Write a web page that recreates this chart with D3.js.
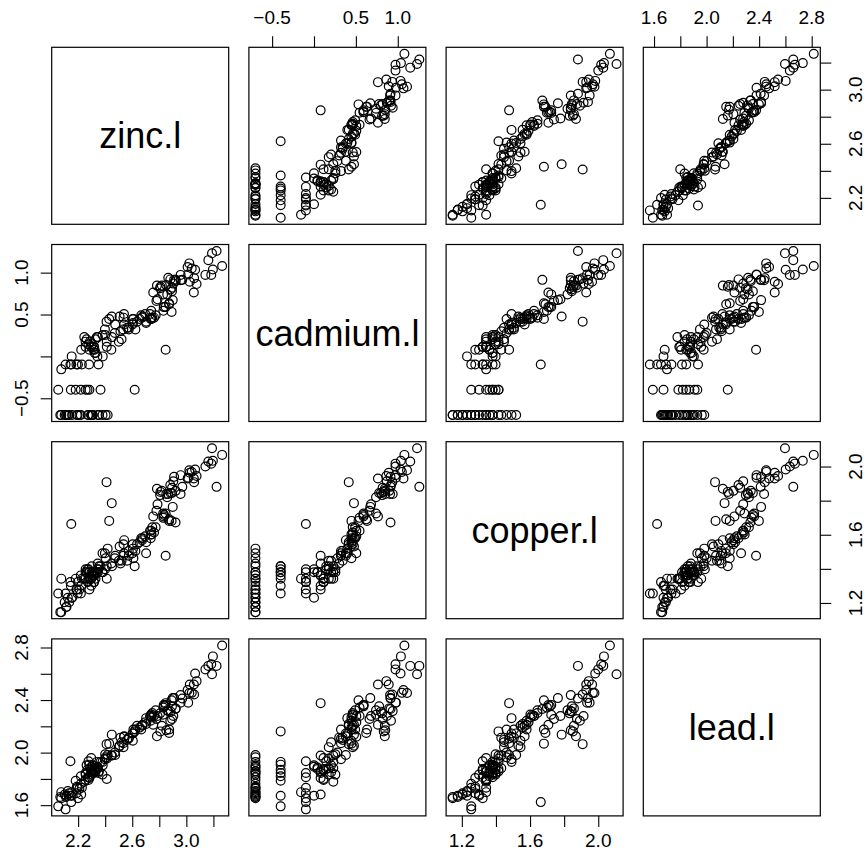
<!DOCTYPE html>
<!-- Scatterplot matrix of log10 heavy metal concentrations (zinc, cadmium, copper, lead). -->
<meta charset="utf-8">
<style>
 body { margin: 0; background: #fff; }
 svg text { font-family: "Liberation Sans", Arial, Helvetica, sans-serif; fill: #000; }
 .box { fill: none; stroke: #000; stroke-width: 1.2px; }
 .pt { fill: none; stroke: #000; stroke-width: 1.2px; }
 .axis line { stroke: #000; stroke-width: 1.1px; }
 .diag { font-size: 36px; }
 .ticklab { font-size: 19px; }
</style>

<svg id="pairs"></svg>

<script src="https://cdn.jsdelivr.net/npm/d3@7"></script>

<script>

 // raw concentrations (ppm), one entry per sample
 var zinc = [1022,1141,640,257,269,281,346,406,347,183,189,251,1096,504,326,1032,606,711,735,1052,
             673,402,343,218,200,194,207,180,240,180,208,198,250,192,213,321,569,833,906,1454,
             298,167,176,258,746,746,464,365,282,375,222,812,1548,1839,1528,933,432,550,1571,1190,
             907,761,659,643,801,784,1060,119,778,703,676,793,685,593,549,680,539,560,1136,1383,
             1161,1672,765,279,241,317,545,505,420,332,400,553,577,155,224,180,226,186,198,187,
             199,157,203,143,136,117,113,130,192,240,221,140,128,166,191,232,203,722,210,198,
             139,253,703,832,262,142,119,152,415,474,126,210,220,133,141,158,129,206,451,296,
             189,154,169,403,471,612,601,783,258,214,166,496,342,162,375];

 var cadmium = [11.7,8.6,6.5,2.6,2.8,3.0,3.2,2.8,2.4,1.6,1.4,1.8,11.2,2.5,2.0,9.5,7.0,7.1,8.7,12.9,
                5.5,2.8,2.9,1.7,1.4,1.5,1.3,1.3,1.8,1.5,1.3,1.3,2.1,1.2,1.6,3.0,5.8,7.9,8.1,14.1,
                2.4,1.2,1.7,1.3,4.2,4.3,3.1,2.2,1.7,2.1,1.7,8.2,17.0,12.0,9.4,8.2,2.6,3.5,10.9,7.3,
                9.4,8.3,7.0,6.8,7.4,6.6,7.8,0.7,3.4,3.9,3.5,4.7,3.9,3.1,2.9,3.9,3.2,2.9,5.8,9.4,
                10.8,18.1,6.3,1.2,1.0,1.5,2.8,2.6,2.1,1.6,2.4,2.8,2.9,0.2,0.8,0.4,0.2,0.4,0.2,0.2,
                0.2,0.2,0.2,0.2,0.2,0.2,0.4,0.2,0.4,0.2,0.2,0.4,0.8,0.4,0.8,0.4,0.2,5.5,1.2,0.2,
                0.8,0.2,1.2,8.2,0.2,1.0,0.2,0.4,0.4,3.0,0.2,1.1,1.0,0.2,0.8,0.8,0.2,1.2,2.8,1.9,
                0.2,0.8,0.8,2.5,2.9,4.8,4.6,6.0,1.5,1.1,0.2,3.2,2.1,0.2,2.2];

 var copper = [85,81,68,81,48,61,31,29,37,24,25,25,93,31,27,86,74,69,69,95,
               53,35,35,24,26,22,21,22,24,25,21,22,31,19,22,34,51,72,69,107,
               30,20,22,22,49,48,38,28,26,30,24,87,128,117,104,76,35,42,108,88,
               89,78,72,71,82,75,92,22,48,53,50,58,52,44,40,51,42,44,85,100,
               96,76,70,27,24,28,38,36,32,28,31,40,41,19,25,24,26,25,22,21,
               24,18,23,17,16,14,18,15,24,31,27,20,18,23,24,26,24,66,23,20,
               21,29,30,47,33,17,14,22,26,38,16,24,25,17,46,21,15,23,36,29,
               22,19,22,33,37,60,55,70,26,24,18,39,30,19,32];

 var lead = [299,277,199,116,117,137,132,150,133,80,86,97,285,183,130,240,133,148,207,284,
             194,123,110,85,75,76,73,62,68,68,75,91,89,64,71,113,163,217,274,457,
             96,48,60,63,141,150,150,125,95,128,76,260,395,654,470,258,160,190,540,350,
             240,175,160,145,190,180,330,50,250,230,220,260,225,210,195,230,190,200,330,430,
             400,457,205,95,80,110,175,165,150,120,140,185,192,55,70,70,72,74,72,65,
             78,54,80,50,49,46,39,47,81,85,76,47,37,66,65,85,70,210,72,68,
             86,92,238,215,96,47,45,61,145,163,48,75,78,51,42,45,46,70,155,100,
             62,49,54,140,160,190,180,225,90,77,58,170,118,53,130];

 var varNames = ["zinc.l", "cadmium.l", "copper.l", "lead.l"];

 var tickVals = [[2.2, 2.4, 2.6, 2.8, 3.0, 3.2],
                 [-0.5, 0.0, 0.5, 1.0],
                 [1.2, 1.4, 1.6, 1.8, 2.0],
                 [1.6, 1.8, 2.0, 2.2, 2.4, 2.6, 2.8]];

 var tickLabels = [[2.2, 2.6, 3.0],
                   [-0.5, 0.5, 1.0],
                   [1.2, 1.6, 2.0],
                   [1.6, 2.0, 2.4, 2.8]];

 var width = 867, height = 860;
 var marginLeft = 51.7, marginTop = 47.3, size = 177, gap = 20.2;
 var n = varNames.length;

 var logs = [zinc, cadmium, copper, lead].map(function(v) {
     return v.map(function(d) { return Math.log10(d); });
 });

 var svg = d3.select("#pairs").attr("width", width).attr("height", height);
 svg.append("rect").attr("width", width).attr("height", height).attr("fill", "#fff");

 function cellX(j) { return marginLeft + j * (size + gap); }
 function cellY(i) { return marginTop + i * (size + gap); }

 // scales per variable: x when in column, y when in row (R pads the range by 4%)
 var xs = [], ys = [];
 logs.forEach(function(v, k) {
     var ext = d3.extent(v), pad = (ext[1] - ext[0]) * 0.04;
     var dom = [ext[0] - pad, ext[1] + pad];
     xs.push(d3.scaleLinear().domain(dom).range([cellX(k), cellX(k) + size]));
     ys.push(d3.scaleLinear().domain(dom).range([cellY(k) + size, cellY(k)]));
 });

 var fmt = d3.format(".1f");

 for (var i = 0; i < n; i++) {
     for (var j = 0; j < n; j++) {
         var g = svg.append("g").attr("class", "panel");

         if (i == j) {
             g.append("text").attr("class", "diag")
                 .attr("x", cellX(j) + size / 2)
                 .attr("y", cellY(i) + size / 2)
                 .attr("text-anchor", "middle")
                 .attr("dominant-baseline", "central")
                 .text(varNames[i]);
         } else {
             var xv = logs[j], yv = logs[i], xsc = xs[j], ysc = ys[i];
             g.selectAll(".pt").data(d3.range(xv.length)).enter()
                 .append("circle")
                 .attr("class", "pt")
                 .attr("r", 4.4)
                 .attr("cx", function(k) { return xsc(xv[k]); })
                 .attr("cy", function(k) { return ysc(yv[k]); });
         }

         g.append("rect").attr("class", "box")
             .attr("x", cellX(j)).attr("y", cellY(i))
             .attr("width", size).attr("height", size);
     }
 }

 // axes alternate sides like R's pairs()
 function drawAxis(side, k) {
     var ax, tr, sc;
     if (side == "top")    { sc = xs[k]; ax = d3.axisTop(sc);    tr = "translate(0," + cellY(0) + ")"; }
     if (side == "bottom") { sc = xs[k]; ax = d3.axisBottom(sc); tr = "translate(0," + (cellY(n - 1) + size) + ")"; }
     if (side == "left")   { sc = ys[k]; ax = d3.axisLeft(sc);   tr = "translate(" + cellX(0) + ",0)"; }
     if (side == "right")  { sc = ys[k]; ax = d3.axisRight(sc);  tr = "translate(" + (cellX(n - 1) + size) + ",0)"; }

     ax.tickValues(tickVals[k]).tickSize(11).tickFormat("");
     var a = svg.append("g").attr("class", "axis").attr("transform", tr).call(ax);
     a.select(".domain").remove();

     tickLabels[k].forEach(function(v) {
         var t = svg.append("text").attr("class", "ticklab")
             .attr("text-anchor", "middle").text(fmt(v));
         if (side == "top") t.attr("x", sc(v)).attr("y", cellY(0) - 23);
         if (side == "bottom") t.attr("x", sc(v)).attr("y", cellY(n - 1) + size + 31);
         if (side == "left") t.attr("transform", "translate(" + (cellX(0) - 24) + "," + sc(v) + ") rotate(-90)");
         if (side == "right") t.attr("transform", "translate(" + (cellX(n - 1) + size + 42) + "," + sc(v) + ") rotate(-90)");
     });
 }

 drawAxis("top", 1);
 drawAxis("top", 3);
 drawAxis("bottom", 0);
 drawAxis("bottom", 2);
 drawAxis("left", 1);
 drawAxis("left", 3);
 drawAxis("right", 0);
 drawAxis("right", 2);

</script>
